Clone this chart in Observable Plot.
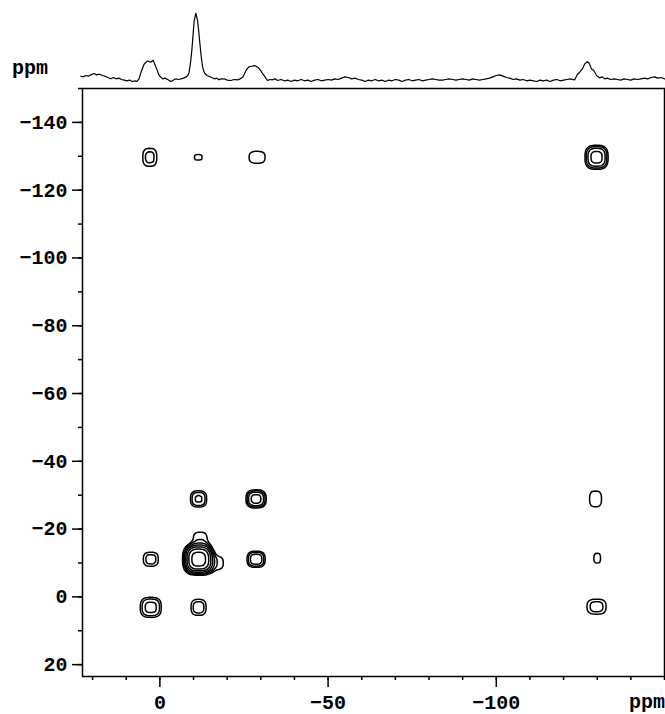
<!DOCTYPE html>
<html>
<head>
<meta charset="utf-8">
<script src="https://cdn.jsdelivr.net/npm/d3@7"></script>
<script src="https://cdn.jsdelivr.net/npm/@observablehq/plot@0.6"></script>
<style>
  html, body { margin: 0; padding: 0; background: #fff; }
  #wrap { position: relative; width: 665px; height: 714px; font-family: "Liberation Mono", "DejaVu Sans Mono", monospace; color: #000; }
  #wrap svg { position: absolute; left: 0; top: 0; }
  .lab { position: absolute; font-size: 20px; line-height: 20px; font-weight: bold; white-space: nowrap; }
</style>
</head>
<body>
<div id="wrap"></div>
<script>
// ---------- 1D projection (top trace): ppm and relative intensity ----------
const projPpm = [23.5, 22.8, 22, 21.2, 20.5, 19.6, 18.8, 17.9, 17.1, 16.3, 15.5, 14.6, 13.8, 13, 12.2, 11.4, 10.6, 9.8, 9, 8.2, 7.4, 6.8, 6.2, 5.6, 4.7, 3.7, 2.7, 2.0, 1.2, 0.2, -0.8, -1.5, -2.3, -3.3, -4, -4.8, -5.5, -6.3, -7, -7.7, -8.3, -8.7, -9.1, -9.5, -9.9, -10.2, -10.7, -11.2, -11.6, -11.9, -12.3, -12.7, -13.1, -13.4, -14, -14.7, -15.4, -16.2, -16.9, -17.6, -18.3, -19.1, -20, -21.1, -22, -23.1, -23.9, -24.6, -25.1, -25.6, -26.1, -26.6, -27.3, -28.1, -28.6, -29.1, -29.6, -30.1, -30.5, -31, -31.5, -32, -32.7, -33.5, -34.2, -35, -36, -37, -38, -39, -40, -41, -42, -43, -44, -45, -46, -47, -48, -49, -50, -51, -52, -53, -54, -55, -56, -57, -58, -59, -60, -61, -62, -63, -64, -65, -66, -67, -68, -69, -70, -71, -72, -73, -74, -75, -76, -77, -78, -79, -80, -81, -82, -83, -84, -85, -86, -87, -88, -89, -90, -91, -92, -93, -94, -95, -96, -97, -98, -99, -100, -101, -102, -103, -104, -105, -106, -107, -108, -109, -110, -111, -112, -113, -114, -115, -116, -117, -118, -119, -120, -121, -122, -123.3, -124.1, -124.8, -125.6, -126.3, -127, -127.6, -128.3, -129, -129.8, -130.7, -131.5, -132.2, -133, -134, -135, -136, -137, -138, -139, -140, -141, -142, -143, -144, -145, -146, -147, -148, -149, -150];
const projInt = [5, 4, 6, 5, 7, 9, 7, 8, 6, 5, 3, 1, 3, 1, 2, 0, -1, -2, -1, -3, -2, -3, 1, 11, 23, 28, 26, 29, 19, 6, 1, 2, 0, -3, -1, 1, 0, 1, 2, 3.5, 6, 11, 25, 44, 70, 89, 100, 89, 70, 54, 34, 19, 12, 9, 6, 4.5, 3, 1, 2, -0.5, 1, 1, -1, -1.5, 0, -0.5, 1, 3.5, 8, 13.5, 17, 19.5, 20, 21, 20, 18.5, 16, 12.5, 9, 6, 2, -1.5, 0, -0.5, 1, -1.5, 0, -2, -1, -3, -1, -2, 0, -2, -1, -3, -1, 0, -2, -1, 0, -1, 1, 0, 2, 4, 3, 1, 2, 0, -1, -3, -1, -2, 0, -2, -1, -3, -1, -2, 0, -1, -3, -1, 0, -2, -1, 0, -2, -1, 0, 1, 0, -1, -1, 0, 1, 0, -1, 0, 1, 0, -1, 1, 0, -1, 0, 1, 2, 4, 6, 7, 5, 3, 2, 0, 1, -1, 0, -2, -1, -2, -3, -1, -2, -1, -3, -1, 0, -2, -1, 0, 1, -0.5, 7.5, 11, 16, 23.6, 27, 24.6, 16, 13.6, 6, 2.5, 4, 1, 2, 0, 1, 0, -1, 1, 0, -1, 1, 0, 1, 2, 1, 3, 4, 2, 3, 1];

// ---------- 2D correlation peaks (ppm, ppm), relative height, widths (ppm) ----------
const peakX      = [2.7, -11.5, -129.8,  2.7, -11.5, -12.0, -17.0, -28.6, -130.0, -11.5, -28.6, -129.5,   3.0, -11.4, -28.9, -129.8];
const peakY      = [3.1,   3.1,    2.9, -11.1, -11.1, -17.0, -10.0, -11.1,  -11.4, -28.9, -28.9,  -28.9, -129.7, -129.7, -129.7, -129.7];
const peakHeight = [2.6,   1.9,    1.8,   1.8,  14,     1.4,   1.3,   3.0,    1.2,   2.4,   4.0,    1.3,    1.7,   1.15,   1.3,    4.0];
const peakWidthX = [2.5,  2.05,   2.68,   2.1,  2.7,    2.3,   2.3,  2.06,   1.46,  1.98,  2.12,    2.2,   2.04,   1.82,   2.95,   2.43];
const peakWidthY = [2.38, 2.17,   2.1,   1.96,  2.7,    2.4,   2.3,  1.82,   2.06,  1.98,  1.89,    2.9,    2.6,   1.35,   2.19,   2.52];
const contourLevels = [1, 1.5, 2.25, 3.4, 5.1, 7.6, 11.4, 17, 25.6];

// ---------- axes ----------
const xMajorTicks = [0, -50, -100];
const yMajorTicks = [20, 0, -20, -40, -60, -80, -100, -120, -140];
const minorTicks = [20, 10, 0, -10, -20, -30, -40, -50, -60, -70, -80, -90, -100, -110, -120, -130, -140, -150];
const xDomain = [23, -150];
const yDomain = [23.5, -150];

const W = 665, H = 714;
const mL = 82, mR = 1;

function peakSurface(x, y) {
  let s = 0;
  for (let i = 0; i < peakX.length; i++) {
    const u = Math.abs((x - peakX[i]) / peakWidthX[i]);
    const v = Math.abs((y - peakY[i]) / peakWidthY[i]);
    s += peakHeight[i] * Math.exp(-(u * u * u + v * v * v) / 2);
  }
  return s;
}

const font = "'Liberation Mono', 'DejaVu Sans Mono', monospace";

const mainPlot = Plot.plot({
  width: W, height: H,
  marginTop: 88, marginBottom: 38, marginLeft: mL, marginRight: mR,
  x: {domain: xDomain, axis: null},
  y: {domain: yDomain, axis: null},
  style: {fontFamily: font, fontSize: "20px", fontWeight: "bold", color: "black", background: "white", overflow: "visible"},
  marks: [
    Plot.contour({
      value: peakSurface,
      x1: xDomain[0], x2: xDomain[1], y1: yDomain[0], y2: yDomain[1],
      thresholds: contourLevels,
      fill: "none", stroke: "black", strokeWidth: 1.5
    }),
    Plot.frame({stroke: "black", strokeWidth: 1.5}),
    Plot.axisX(minorTicks, {tickSize: 4, tickFormat: () => "", label: null, strokeWidth: 1.5}),
    Plot.axisX(xMajorTicks, {tickSize: 11, tickPadding: 7, label: null, strokeWidth: 1.5, fontSize: 20, fontWeight: "bold"}),
    Plot.axisY(minorTicks, {tickSize: 4, tickFormat: () => "", label: null, strokeWidth: 1.5}),
    Plot.axisY(yMajorTicks, {tickSize: 10, tickPadding: 5, label: null, strokeWidth: 1.5, fontSize: 20, fontWeight: "bold"})
  ]
});

const proj = projPpm.map((p, i) => ({ppm: p, v: projInt[i]}));
const topPlot = Plot.plot({
  width: W, height: 88,
  marginTop: 0, marginBottom: 0, marginLeft: mL, marginRight: mR,
  x: {domain: xDomain, axis: null},
  y: {domain: [-13.6, 119.2], axis: null},
  style: {background: "transparent", overflow: "visible"},
  marks: [
    Plot.line(proj, {x: "ppm", y: "v", stroke: "black", strokeWidth: 1.2})
  ]
});

const wrap = document.getElementById("wrap");
wrap.appendChild(mainPlot);
wrap.appendChild(topPlot);

const l1 = document.createElement("div");
l1.className = "lab"; l1.textContent = "ppm";
l1.style.left = "12px"; l1.style.top = "59px";
wrap.appendChild(l1);

const l2 = document.createElement("div");
l2.className = "lab"; l2.textContent = "ppm";
l2.style.right = "0px"; l2.style.top = "693px";
wrap.appendChild(l2);
</script>
</body>
</html>
